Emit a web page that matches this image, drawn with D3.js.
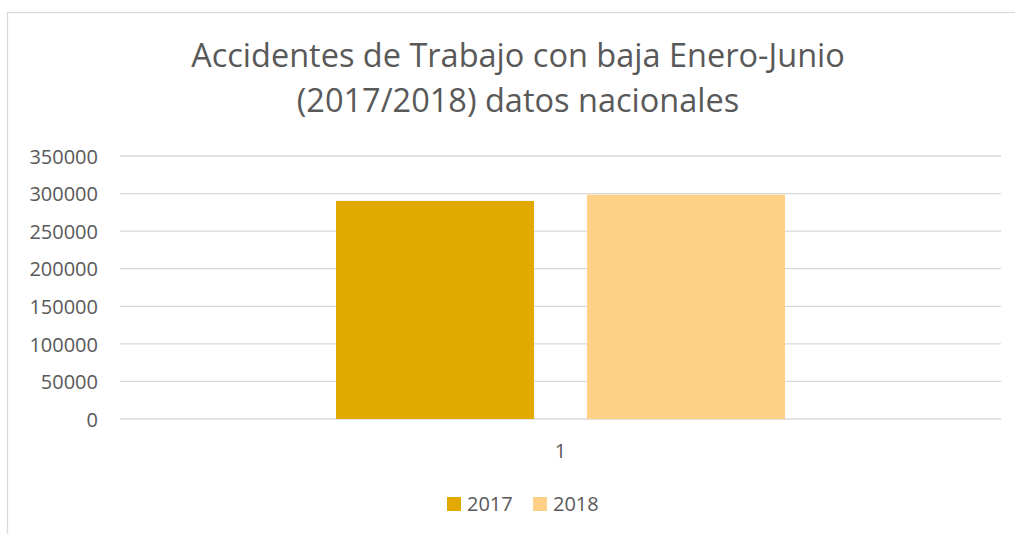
<!DOCTYPE html>
<html lang="es">
<head>
    <meta charset="UTF-8">
    <title>Accidentes de Trabajo con baja</title>
    <script src="https://d3js.org/d3.v7.min.js"></script>
    <style>
        body { margin: 0; background: #fff; }
        text { font-family: "Open Sans", sans-serif; fill: #595959; }
        .grid line { stroke: #d9d9d9; stroke-width: 1.3px; }
    </style>
</head>
<body>
    <div id="chart"></div>
    <script>
        const width = 1015;
        const height = 534;

        // data
        const categories = ["1"];
        const seriesNames = ["2017", "2018"];
        const values2017 = [290200];
        const values2018 = [298600];
        const seriesColors = ["#e2aa00", "#fed186"];
        const yTicks = [0, 50000, 100000, 150000, 200000, 250000, 300000, 350000];
        const titleLines = ["Accidentes de Trabajo con baja Enero-Junio", "(2017/2018) datos nacionales"];

        const series = [values2017, values2018];

        const plot = { left: 120, right: 1001, top: 156, bottom: 419 };

        const svg = d3.select("#chart").append("svg")
            .attr("width", width)
            .attr("height", height);

        // chart frame
        svg.append("rect")
            .attr("x", 7.5).attr("y", 12.5)
            .attr("width", 1030).attr("height", 540)
            .attr("fill", "none")
            .attr("stroke", "#d9d9d9")
            .attr("stroke-width", 1.3);

        // title
        svg.append("g").selectAll("text")
            .data(titleLines)
            .join("text")
            .attr("x", 518)
            .attr("y", (d, i) => 67 + i * 45)
            .attr("text-anchor", "middle")
            .style("font-size", "32.5px")
            .text(d => d);

        const y = d3.scaleLinear()
            .domain([0, 350000])
            .range([plot.bottom, plot.top]);

        const x0 = d3.scaleBand()
            .domain(categories)
            .range([plot.left, plot.right])
            .paddingOuter(0.481);

        const x1 = d3.scaleBand()
            .domain(seriesNames)
            .range([0, x0.bandwidth()])
            .paddingInner(0.211)
            .paddingOuter(0);

        // gridlines
        svg.append("g")
            .attr("class", "grid")
            .selectAll("line")
            .data(yTicks)
            .join("line")
            .attr("x1", plot.left)
            .attr("x2", plot.right)
            .attr("y1", d => y(d))
            .attr("y2", d => y(d));

        // y axis labels
        const yAxis = svg.append("g")
            .attr("transform", `translate(98,0)`)
            .call(d3.axisLeft(y).tickValues(yTicks).tickFormat(d3.format("d")).tickSize(0).tickPadding(0));
        yAxis.select(".domain").remove();
        yAxis.selectAll("text")
            .attr("dy", "0.36em")
            .style("font-size", "20px")
            .style("font-family", "'Open Sans', sans-serif")
            .attr("fill", "#595959");

        // bars
        const groups = svg.append("g")
            .selectAll("g")
            .data(categories)
            .join("g")
            .attr("transform", d => `translate(${x0(d)},0)`);

        groups.selectAll("rect")
            .data((d, ci) => seriesNames.map((s, si) => ({ s, v: series[si][ci], c: seriesColors[si] })))
            .join("rect")
            .attr("x", d => x1(d.s))
            .attr("width", x1.bandwidth())
            .attr("y", d => y(d.v))
            .attr("height", d => y(0) - y(d.v))
            .attr("fill", d => d.c);

        // category axis
        const xAxis = svg.append("g")
            .attr("transform", `translate(0,${plot.bottom})`)
            .call(d3.axisBottom(x0).tickSize(0).tickPadding(0));
        xAxis.select(".domain").remove();
        xAxis.selectAll("text")
            .attr("y", 39)
            .attr("dy", 0)
            .style("font-size", "20px")
            .style("font-family", "'Open Sans', sans-serif")
            .attr("fill", "#595959");

        // legend
        const legendX = [447, 533];
        const legend = svg.append("g")
            .selectAll("g")
            .data(seriesNames)
            .join("g")
            .attr("transform", (d, i) => `translate(${legendX[i]},497)`);
        legend.append("rect")
            .attr("width", 14).attr("height", 14)
            .attr("fill", (d, i) => seriesColors[i]);
        legend.append("text")
            .attr("x", 20)
            .attr("y", 14)
            .style("font-size", "20px")
            .text(d => d);
    </script>
</body>
</html>
